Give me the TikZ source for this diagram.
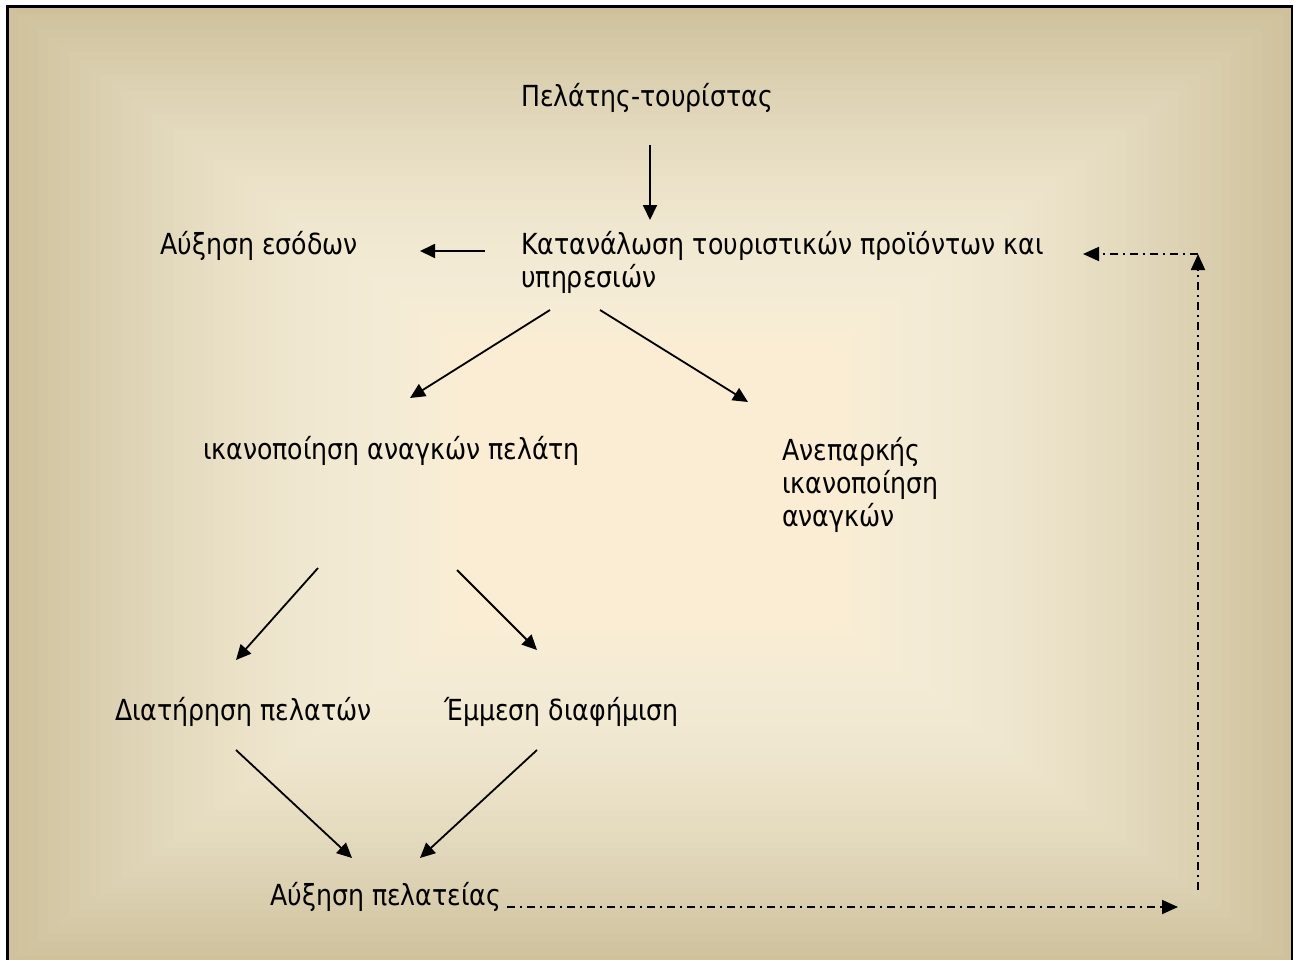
\documentclass[tikz,border=0pt]{standalone}
\usepackage{fontspec}
\setmainfont{DejaVu Sans}[FakeStretch=0.87]
\usetikzlibrary{arrows.meta}

\definecolor{bgEdge}{RGB}{206,193,156}
\definecolor{bgMid}{RGB}{243,235,213}
\definecolor{bgCore}{RGB}{250,237,212}

\tikzset{
  lbl/.style={inner sep=0pt, anchor=base west, align=left,
              font=\fontsize{29}{33}\selectfont},
  flow/.style={line width=1.8pt, -{Triangle[length=15pt,width=14pt]}},
  loopline/.style={line width=1.8pt, dash pattern=on 8pt off 5pt on 2pt off 5pt},
  looparrow/.style={loopline, -{Triangle[length=16pt,width=14pt]}},
}

\begin{document}
\begin{tikzpicture}[x=1pt,y=-1pt]
\useasboundingbox (0,0) rectangle (1295,959);
\clip (0,0) rectangle (1295,959);
\fill[white] (0,0) rectangle (1295,959);

% rectangular gradient of the page background: tan rim, pale middle, warm core
\foreach \i in {0,...,36}{
  \pgfmathsetmacro\t{1-0.58*\i/36}
  \pgfmathsetmacro\s{100*((\t-0.42)/0.58)^1.5}
  \fill[bgEdge!\s!bgMid] ({650-643*\t},{485-479*\t}) rectangle ({650+643*\t},{485+479*\t});
}
\foreach \i in {1,...,8}{
  \pgfmathsetmacro\t{0.42-0.12*\i/8}
  \pgfmathsetmacro\s{100*((\t-0.30)/0.12)}
  \fill[bgMid!\s!bgCore] ({650-643*\t},{485-479*\t}) rectangle ({650+643*\t},{485+479*\t});
}
\draw[line width=2.5pt] (7.5,6.5) rectangle (1292,980);

% labels (multi-line nodes sit on the baseline of their last line)
\node[lbl] (client)  at (521,106) {Πελάτης-τουρίστας};
\node[lbl] (consume) at (521,287) {Κατανάλωση τουριστικών προϊόντων και\\υπηρεσιών};
\node[lbl] (income)  at (160,254) {Αύξηση εσόδων};
\node[lbl] (satisf)  at (203,459) {ικανοποίηση αναγκών πελάτη};
\node[lbl] (insuff)  at (782,526) {Ανεπαρκής\\ικανοποίηση\\αναγκών};
\node[lbl] (retain)  at (115,720) {Διατήρηση πελατών};
\node[lbl] (wom)     at (444,720) {Έμμεση διαφήμιση};
\node[lbl] (growth)  at (270,905) {Αύξηση πελατείας};

% connector end points
\coordinate (a1s) at (650,145);  \coordinate (a1e) at (650,220);
\coordinate (a2s) at (485,251);  \coordinate (a2e) at (420,251);
\coordinate (a3s) at (550,310);  \coordinate (a3e) at (410,398);
\coordinate (a4s) at (600,310);  \coordinate (a4e) at (748,402);
\coordinate (a5s) at (318,568);  \coordinate (a5e) at (236,660);
\coordinate (a6s) at (457,570);  \coordinate (a6e) at (537,650);
\coordinate (a7s) at (236,750);  \coordinate (a7e) at (352,858);
\coordinate (a8s) at (537,750);  \coordinate (a8e) at (420,858);
\coordinate (d1s) at (507,907);  \coordinate (d1e) at (1178,907);
\coordinate (d2s) at (1198,890); \coordinate (corner) at (1198,254);
\coordinate (d3e) at (1083,254);

% flow arrows
\draw[flow] (a1s) -- (a1e);
\draw[flow] (a2s) -- (a2e);
\draw[flow] (a3s) -- (a3e);
\draw[flow] (a4s) -- (a4e);
\draw[flow] (a5s) -- (a5e);
\draw[flow] (a6s) -- (a6e);
\draw[flow] (a7s) -- (a7e);
\draw[flow] (a8s) -- (a8e);

% feedback loop
\draw[looparrow] (d1s) -- (d1e);
\draw[looparrow] (d2s) -- (corner);
\draw[looparrow] (corner) -- (d3e);
\end{tikzpicture}
\end{document}
